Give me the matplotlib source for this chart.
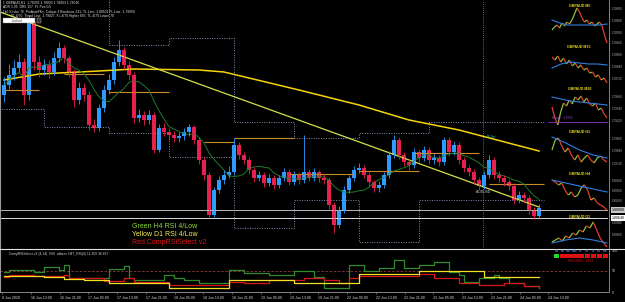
import numpy as np
import pandas as pd
import matplotlib
matplotlib.use("Agg")
import matplotlib.pyplot as plt
from matplotlib.collections import LineCollection

plt.rcParams['font.family'] = ['Liberation Sans', 'DejaVu Sans']

# ---- main H1 candles (GBPAUD) ----
closes = [1.8330, 1.8350, 1.8364, 1.8376, 1.8310, 1.8456, 1.8376, 1.8360, 1.8370, 1.8356,
          1.8384, 1.8404, 1.8384, 1.8356, 1.8300, 1.8324, 1.8310, 1.8250, 1.8244, 1.8284,
          1.8320, 1.8340, 1.8376, 1.8400, 1.8370, 1.8350, 1.8264, 1.8270, 1.8260, 1.8270,
          1.8200, 1.8244, 1.8236, 1.8230, 1.8224, 1.8228, 1.8236, 1.8246, 1.8220, 1.8180,
          1.8150, 1.8070, 1.8120, 1.8140, 1.8150, 1.8156, 1.8210, 1.8190, 1.8180, 1.8160,
          1.8144, 1.8150, 1.8134, 1.8144, 1.8130, 1.8144, 1.8156, 1.8136, 1.8150, 1.8140,
          1.8156, 1.8144, 1.8156, 1.8144, 1.8140, 1.8090, 1.8050, 1.8080, 1.8120, 1.8144,
          1.8160, 1.8164, 1.8150, 1.8136, 1.8124, 1.8130, 1.8150, 1.8190, 1.8220, 1.8190,
          1.8176, 1.8170, 1.8196, 1.8184, 1.8200, 1.8180, 1.8184, 1.8176, 1.8220, 1.8196,
          1.8210, 1.8180, 1.8164, 1.8156, 1.8140, 1.8128, 1.8150, 1.8180, 1.8150, 1.8144,
          1.8136, 1.8128, 1.8100, 1.8110, 1.8104, 1.8080, 1.8068, 1.8084]
highs = [1.8346, 1.8372, 1.8380, 1.8392, 1.8384, 1.8470, 1.8462, 1.8388, 1.8382, 1.8380,
         1.8396, 1.8416, 1.8410, 1.8390, 1.8362, 1.8336, 1.8334, 1.8318, 1.8262, 1.8292,
         1.8330, 1.8352, 1.8386, 1.8420, 1.8406, 1.8378, 1.8356, 1.8282, 1.8278, 1.8280,
         1.8276, 1.8252, 1.8254, 1.8244, 1.8238, 1.8236, 1.8244, 1.8252, 1.8250, 1.8226,
         1.8186, 1.8156, 1.8126, 1.8148, 1.8160, 1.8168, 1.8224, 1.8216, 1.8196, 1.8186,
         1.8166, 1.8158, 1.8156, 1.8152, 1.8150, 1.8150, 1.8164, 1.8162, 1.8158, 1.8156,
         1.8230, 1.8162, 1.8164, 1.8160, 1.8152, 1.8146, 1.8096, 1.8088, 1.8128, 1.8150,
         1.8168, 1.8174, 1.8170, 1.8156, 1.8140, 1.8138, 1.8156, 1.8198, 1.8230, 1.8226,
         1.8196, 1.8182, 1.8204, 1.8202, 1.8208, 1.8206, 1.8192, 1.8190, 1.8226, 1.8226,
         1.8218, 1.8216, 1.8186, 1.8170, 1.8162, 1.8146, 1.8158, 1.8190, 1.8186, 1.8158,
         1.8150, 1.8142, 1.8134, 1.8118, 1.8116, 1.8110, 1.8086, 1.8092]
lows = [1.8296, 1.8322, 1.8340, 1.8356, 1.8290, 1.8300, 1.8360, 1.8346, 1.8350, 1.8344,
        1.8350, 1.8376, 1.8374, 1.8346, 1.8286, 1.8292, 1.8298, 1.8240, 1.8236, 1.8238,
        1.8276, 1.8312, 1.8332, 1.8368, 1.8362, 1.8340, 1.8254, 1.8256, 1.8250, 1.8252,
        1.8194, 1.8196, 1.8228, 1.8222, 1.8216, 1.8216, 1.8220, 1.8228, 1.8212, 1.8172,
        1.8140, 1.8064, 1.8066, 1.8114, 1.8132, 1.8144, 1.8150, 1.8182, 1.8172, 1.8152,
        1.8136, 1.8138, 1.8126, 1.8128, 1.8122, 1.8124, 1.8138, 1.8130, 1.8130, 1.8132,
        1.8134, 1.8138, 1.8138, 1.8136, 1.8132, 1.8082, 1.8034, 1.8044, 1.8074, 1.8114,
        1.8138, 1.8154, 1.8144, 1.8128, 1.8116, 1.8116, 1.8124, 1.8144, 1.8184, 1.8182,
        1.8168, 1.8160, 1.8164, 1.8176, 1.8178, 1.8172, 1.8172, 1.8168, 1.8170, 1.8188,
        1.8190, 1.8172, 1.8156, 1.8148, 1.8132, 1.8120, 1.8122, 1.8144, 1.8142, 1.8136,
        1.8128, 1.8120, 1.8092, 1.8094, 1.8096, 1.8072, 1.8062, 1.8062]
first_open = 1.8310

# MA(200) read at a few bars
ma200_idx = [0, 7, 19, 26, 39, 44, 59, 71, 81, 91, 107]
ma200_val = [1.8340, 1.8352, 1.8358, 1.8362, 1.8360, 1.8356, 1.8320, 1.8290, 1.8260, 1.8240, 1.8198]

# trend line end points
trend_idx = [-0.8, 107]
trend_val = [1.8476, 1.8086]

# daily pivot segments (start bar, end bar, price)
piv_start = [0, 12, 21, 40, 46, 57, 71, 82, 97]
piv_end = [7, 20, 33, 46, 58, 70, 83, 95, 108]
piv_price = [1.8320, 1.8352, 1.8316, 1.8216, 1.8224, 1.8152, 1.8158, 1.8194, 1.8132]

# dotted channel steps
upper_idx = [-1, 21, 33, 46, 58, 71, 85, 108]
upper_val = [1.8520, 1.8410, 1.8424, 1.8256, 1.8224, 1.8234, 1.8256, 1.8256]
lower_idx = [-1, 8, 21, 33, 46, 58, 71, 83, 108]
lower_val = [1.8282, 1.8246, 1.8234, 1.8186, 1.8044, 1.8100, 1.8016, 1.8100, 1.8100]

level_lines = [1.8080, 1.8064]

# ---- lower indicator (CompRSISelect) steps ----
green_idx = [0, 1, 6, 8, 11, 12, 13, 21, 24, 25, 26, 32, 34, 36, 39, 45, 48, 53, 58, 62, 64,
             69, 72, 75, 78, 80, 83, 86, 89, 91, 92, 95, 98, 99, 101, 104, 107]
green_val = [47, 52, 48, 60, 52, 64, 33, 55, 62, 33, 29, 40, 33, 29, 21, 52, 45, 40, 50, 36, 10,
             64, 50, 57, 76, 57, 64, 71, 48, 40, 24, 33, 40, 33, 21, 14, 10]
yellow_idx = [0, 8, 12, 16, 21, 33, 45, 58, 71, 83, 96, 107]
yellow_val = [38, 36, 31, 29, 21, 10, 29, 21, 43, 50, 36, 36]
red_idx = [0, 1, 6, 12, 13, 20, 24, 26, 33, 45, 48, 53, 60, 64, 67, 69, 71, 83, 86, 91, 95,
           100, 104, 107]
red_val = [36, 40, 38, 40, 33, 26, 33, 24, 17, 24, 21, 29, 33, 29, 21, 33, 38, 43, 33, 21, 17,
           21, 14, 12]

time_labels = ["8 Jun 2020", "16 Jun 13:00", "16 Jun 21:00", "17 Jun 05:00", "17 Jun 13:00",
               "17 Jun 21:00", "18 Jun 05:00", "18 Jun 13:00", "18 Jun 21:00", "19 Jun 05:00",
               "19 Jun 13:00", "19 Jun 21:00", "22 Jun 05:00", "22 Jun 13:00", "22 Jun 21:00",
               "23 Jun 05:00", "23 Jun 13:00", "23 Jun 21:00", "24 Jun 05:00", "24 Jun 13:00"]

# ---- mini charts ----
m5 = [1.7858, 1.7861, 1.7863, 1.7860, 1.7865, 1.7862, 1.7866, 1.7864, 1.7868, 1.7874, 1.7880,
      1.7876, 1.7870, 1.7866, 1.7868, 1.7864, 1.7866, 1.7862, 1.7864, 1.7866, 1.7862, 1.7853, 1.7845]
m5_ma = [1.7868, 1.7865, 1.7863, 1.7863, 1.7863, 1.7863, 1.7863, 1.7864]
m15 = [1.7893, 1.7890, 1.7894, 1.7888, 1.7892, 1.7886, 1.7890, 1.7884, 1.7887, 1.7882, 1.7885,
       1.7880, 1.7882, 1.7877, 1.7878, 1.7873, 1.7875, 1.7870, 1.7872, 1.7867]
m15_ma = [1.7882, 1.7886, 1.7888, 1.7887, 1.7886, 1.7886, 1.7885]
m30 = [1.7935, 1.7924, 1.7917, 1.7930, 1.7939, 1.7936, 1.7942, 1.7938, 1.7945, 1.7942, 1.7946,
       1.7940, 1.7944, 1.7938, 1.7936, 1.7939, 1.7932, 1.7934, 1.7928, 1.7924]
m30_ma = [1.7945, 1.7943, 1.7941, 1.7940, 1.7939, 1.7938, 1.7937]
h1 = [1.7985, 1.7995, 1.7997, 1.7989, 1.7983, 1.7987, 1.7980, 1.7975, 1.7980, 1.7973, 1.7977,
      1.7980, 1.7975, 1.7972, 1.7977, 1.7979, 1.7975, 1.7973]
h1_ma = [1.7998, 1.7992, 1.7985, 1.7980, 1.7977]
h4 = [1.8046, 1.8044, 1.8041, 1.8043, 1.8036, 1.8031, 1.8034, 1.8029, 1.8031, 1.8038, 1.8041,
      1.8036, 1.8026, 1.8028, 1.8023, 1.8021, 1.8019, 1.8016]
h4_ma = [1.8046, 1.8040, 1.8034]
d1 = [1.8078, 1.8080, 1.8082, 1.8079, 1.8084, 1.8082, 1.8087, 1.8085, 1.8090, 1.8088, 1.8094,
      1.8092, 1.8098, 1.8090, 1.8082, 1.8077, 1.8073]
d1_ma = [1.8077, 1.8080, 1.8082, 1.8080, 1.8077]

W, H = 625, 302


def box(x0, y0, x1, y1):
    return [x0 / W, 1 - y1 / H, (x1 - x0) / W, (y1 - y0) / H]


fig = plt.figure(figsize=(6.25, 3.02), dpi=100, facecolor='black')

# ---------- main chart ----------
ax = fig.add_axes(box(0, 0, 608, 248))
ax.set_facecolor('black')
ax.set_xlim(-0.8, 120.8)
ax.set_ylim(1.8004, 1.8500)
for s in ax.spines.values():
    s.set_visible(False)
ax.spines['left'].set_visible(True)
ax.spines['left'].set_color('#9a9a9a')
ax.spines['left'].set_linewidth(0.8)
ax.set_xticks([])
ax.set_yticks([])

n = len(closes)
idx = np.arange(n)
opens = [first_open] + closes[:-1]
cols = ['#2f9bff' if c >= o else '#e8204e' for o, c in zip(opens, closes)]

# dotted channels
ax.step(upper_idx, upper_val, where='post', color='#7f8db0', lw=0.7, ls=(0, (1, 1.5)))
ax.step(lower_idx, lower_val, where='post', color='#7f8db0', lw=0.7, ls=(0, (1, 1.5)))

for y in level_lines:
    ax.axhline(y, color='#b8b8b8' if y == level_lines[0] else '#dcdcdc', lw=0.7)

# period separator
ax.axvline(95.8, color='#8a8a8a', lw=0.6, ls=(0, (1, 1.5)))

ax.hlines(piv_price, piv_start, piv_end, color='#c98a2b', lw=0.8)

ax.plot(ma200_idx, ma200_val, color='#f5d50a', lw=1.1)
ax.plot(trend_idx, trend_val, color='#d6e04a', lw=0.9)

ma_fast = pd.Series(closes).rolling(8, min_periods=1).mean()
ax.plot(idx, ma_fast, color='#1f7a2a', lw=0.7)

ax.vlines(idx, lows, highs, colors=cols, lw=0.6)
ax.bar(idx, np.array(closes) - np.array(opens), bottom=opens, width=0.7, color=cols, linewidth=0)

# price labels of the horizontal levels
for y, fc in zip(level_lines, ['#c8c8c8', '#ffffff']):
    ax.text(1.006, y, f"{y:.5f}", transform=ax.get_yaxis_transform(), fontsize=2.6,
            color='black', va='center', ha='left',
            bbox=dict(boxstyle='square,pad=0.15', fc=fc, ec='none'))

# info lines top-left
info = ["\u2021 GBPAUD,H1  1.78093 1.78093 1.78003 1.78016",
        "ADR 1.95  DR0 157  Fl: Pos 0/5",
        "Lbl: Kirvbe 76, PinAutoFKs, Calque 4 Bandinus 231, TL Line: 1.80501 FL Line: 1.79958",
        "        FL 4/70: Trend Line: 1.79827, FL 4/70 Higher 895, TL 4/70 Lower 78"]
for k, t in enumerate(info):
    fig.text(3 / W, 1 - (3 + 4.3 * k) / H, t, fontsize=2.4, color='#dddddd', va='center', ha='left')
fig.add_artist(plt.Rectangle((3 / W, 1 - 23 / H), 32 / W, 5 / H, fc='white', ec='#888888',
                             lw=0.3, zorder=5))
fig.add_artist(plt.Rectangle((37 / W, 1 - 23 / H), 4 / W, 5 / H, fc='#333333', ec='#bbbbbb',
                             lw=0.3, zorder=5))
fig.text(12 / W, 1 - 20.5 / H, "Locked", fontsize=2.4, color='#444444', va='center', ha='left',
         zorder=6)

ax.text(96.5, 1.8224, "56.0pt", fontsize=2.4, color='#39d3c4')
ax.text(94.5, 1.8114, "AUDUSD", fontsize=2.4, color='#cfcfcf')

# legend texts
fig.text(132 / W, 1 - 227 / H, "Green H4 RSI 4/Low", fontsize=5, color='#8cdc3c', va='center')
fig.text(132 / W, 1 - 234 / H, "Yellow D1 RSI 4/Low", fontsize=5, color='#f0f050', va='center')
fig.text(132 / W, 1 - 242 / H, "Red CompRSISelect v2", fontsize=5, color='#e01818', va='center')

# ---------- indicator panel ----------
ai = fig.add_axes(box(0, 250, 608, 292))
ai.set_facecolor('black')
ai.set_xlim(-0.8, 120.8)
ai.set_ylim(0, 100)
for s in ai.spines.values():
    s.set_visible(False)
ai.spines['left'].set_visible(True)
ai.spines['left'].set_color('#9a9a9a')
ai.spines['bottom'].set_visible(True)
ai.spines['bottom'].set_color('#9a9a9a')
ai.spines['bottom'].set_linewidth(0.6)
ai.axhline(50, color='#8a3a3a', lw=0.6, ls=(0, (3, 2)))
ai.step(green_idx, green_val, where='post', color='#2e8b2e', lw=0.9)
ai.step(red_idx, red_val, where='post', color='#d81818', lw=0.9)
ai.step(yellow_idx, yellow_val, where='post', color='#f2e025', lw=0.9)
ai.text(1, 95, "CompRSISelect v2 (4,14)  RSI  abbrev H4T_RSI(4) 11.369 36.667", fontsize=2.4,
        color='#cfcfcf', va='top')
tick_pos = np.arange(len(time_labels)) * 5.75 - 0.4
ai.set_xticks(tick_pos)
ai.set_xticklabels(time_labels, fontsize=2.6, color='#d8d8d8', ha='left')
ai.tick_params(axis='x', length=1.5, width=0.4, color='#9a9a9a', pad=1.5)
ai.yaxis.tick_right()
ai.set_yticks([0, 50, 100])
ai.set_yticklabels(["0", "50", "100"], fontsize=2.6, color='#c8c8c8')
ai.tick_params(axis='y', length=0, pad=3)

# separators
fig.add_artist(plt.Line2D([0, 1], [1 - 248.5 / H, 1 - 248.5 / H], color='#e0e0e0', lw=0.8))
fig.add_artist(plt.Line2D([608.5 / W, 608.5 / W], [1 - 292 / H, 1], color='#9a9a9a', lw=0.6))


# ---------- mini charts ----------
def mini(px_box, ylim, data, ma, title, title_y, ticks):
    m = fig.add_axes(box(*px_box))
    m.set_facecolor('none')
    k = len(data) - 1
    m.set_xlim(-4 / 55 * k, k + 1 / 55 * k)
    m.set_ylim(*ylim)
    for s in m.spines.values():
        s.set_visible(False)
    x = np.arange(len(data))
    pts = np.column_stack([x, data])
    segs = np.stack([pts[:-1], pts[1:]], axis=1)
    sc = ['#8fc43a' if b >= a else '#e0402a' for a, b in zip(data[:-1], data[1:])]
    m.add_collection(LineCollection(segs, colors=sc, linewidths=0.9))
    mx = np.linspace(0, k, len(ma))
    m.plot(mx, ma, color='#2f7fe0', lw=0.8)
    m.set_xticks([])
    m.yaxis.tick_right()
    m.set_yticks(ticks)
    m.set_yticklabels([f"{t:.5f}" for t in ticks], fontsize=2.2, color='#b0b0b0')
    m.tick_params(axis='y', length=0, pad=2.5)
    ty = (px_box[3] - title_y) / (px_box[3] - px_box[1])
    m.text(0.52, ty, title, transform=m.transAxes, fontsize=2.6, color='#e8d820',
           fontweight='bold', ha='center', va='center')
    return m


mini((548, 2, 608, 46), (1.7842, 1.7886), m5, m5_ma, "GBPAUD M5", 6,
     [1.7880, 1.7868, 1.7856, 1.7846])
mini((548, 44, 608, 88), (1.7862, 1.7906), m15, m15_ma, "GBPAUD M15", 47,
     [1.7896, 1.7884, 1.7872])
m30ax = mini((548, 86, 608, 130), (1.7912, 1.7956), m30, m30_ma, "GBPAUD M30", 89,
             [1.7946, 1.7934, 1.7922])
m30ax.axhline(1.7920, color='#8a3ab8', lw=0.6)
m30ax.text(0.12, 1.7922, "Range : 1.0713", fontsize=2.2, color='#a050d0', va='bottom')
mini((548, 129, 608, 172), (1.7963, 1.8006), h1, h1_ma, "GBPAUD H1", 132,
     [1.7996, 1.7984, 1.7972])
mini((548, 171, 608, 212), (1.8014, 1.8055), h4, h4_ma, "GBPAUD H4", 174,
     [1.8046, 1.8036, 1.8026])
mini((548, 213, 608, 248), (1.8072, 1.8107), d1, d1_ma, "GBPAUD D1", 217,
     [1.8098, 1.8086])

# timeframe table under the minis
tf = ["M1", "M5", "M15", "M30", "H1", "H4", "D1", "W1", "MN"]
for j, t in enumerate(tf):
    x0 = 554 + j * 6.1
    fig.text((x0 + 2.5) / W, 1 - 251 / H, t, fontsize=2, color='#7fa8ff', ha='center', va='center')
    fig.add_artist(plt.Rectangle((x0 / W, 1 - 257.5 / H), 5.4 / W, 3.5 / H,
                                 color='#22dd22' if j == 0 else '#e01010', lw=0))
fig.text(581 / W, 1 - 261.5 / H, "RSICrSELL - 14:11", fontsize=2.2, color='#e01010',
         ha='center', va='center')

fig.savefig('out.png', dpi=100, facecolor='black')
